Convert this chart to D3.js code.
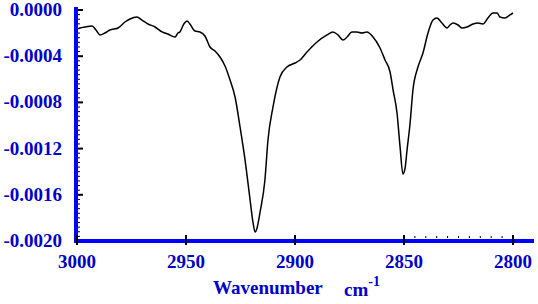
<!DOCTYPE html>
<html>
<head>
<meta charset="utf-8">
<script src="https://cdn.jsdelivr.net/npm/d3@7"></script>
<style>
  body { margin: 0; background: #fff; }
  svg { display: block; }
  text { font-family: "Liberation Serif", "Times New Roman", serif; font-weight: bold; }
</style>
</head>
<body>
<svg id="chart" width="538" height="304"></svg>
<script>
// spectrum: wavenumber (cm-1) and absorbance
var wavenumber = [2999.5, 2998.6, 2996.3, 2993.1, 2991.3, 2989.4, 2987.2, 2984.9, 2981.2, 2978.0,
  2975.7, 2972.5, 2970.2, 2967.4, 2964.2, 2961.0, 2958.3, 2955.0, 2953.7, 2952.8,
  2951.0, 2949.5, 2948.2, 2945.9, 2943.6, 2941.3, 2939.0, 2936.7, 2934.4, 2932.1,
  2929.8, 2927.5, 2925.2, 2922.9, 2920.6, 2919.3, 2918.3, 2917.4, 2916.1, 2913.8,
  2912.4, 2910.1, 2906.9, 2903.7, 2900.0, 2897.7, 2894.5, 2889.9, 2885.3, 2882.6,
  2880.3, 2878.0, 2876.1, 2873.9, 2871.6, 2869.3, 2867.0, 2864.2, 2861.0, 2858.7,
  2856.4, 2855.0, 2853.2, 2851.8, 2850.5, 2849.5, 2848.6, 2847.2, 2845.9, 2843.6,
  2841.3, 2839.0, 2836.7, 2834.9, 2832.6, 2830.3, 2828.9, 2827.5, 2825.2, 2823.4,
  2821.1, 2818.3, 2816.1, 2813.8, 2811.5, 2809.2, 2807.3, 2806.0, 2803.7, 2801.4, 2800.0];
var absorbance = [-0.000164, -0.000156, -0.000147, -0.000139, -0.000173, -0.000216, -0.000199, -0.000173, -0.000156, -0.000104,
  -0.000078, -0.000061, -0.000087, -0.000121, -0.000147, -0.000190, -0.000208, -0.000234, -0.000199, -0.000190,
  -0.000121, -0.000095, -0.000121, -0.000182, -0.000190, -0.000225, -0.000320, -0.000355, -0.000407, -0.000485,
  -0.000606, -0.000753, -0.001013, -0.001299, -0.001645, -0.001835, -0.001922, -0.001887, -0.001758, -0.001472,
  -0.001126, -0.000840, -0.000580, -0.000494, -0.000459, -0.000433, -0.000364, -0.000277, -0.000216, -0.000190,
  -0.000216, -0.000260, -0.000234, -0.000190, -0.000190, -0.000199, -0.000190, -0.000234, -0.000329, -0.000433,
  -0.000537, -0.000693, -0.000892, -0.001186, -0.001420, -0.001368, -0.001212, -0.000978, -0.000693, -0.000494,
  -0.000372, -0.000199, -0.000087, -0.000069, -0.000113, -0.000156, -0.000130, -0.000113, -0.000130, -0.000156,
  -0.000147, -0.000121, -0.000113, -0.000121, -0.000069, -0.000026, -0.000026, -0.000061, -0.000069, -0.000043, -0.000026];

var xTicks = [3000, 2950, 2900, 2850, 2800];
var yTicks = [0, -0.0004, -0.0008, -0.0012, -0.0016, -0.0020];

var svg = d3.select("#chart");
var blue = "#0000ff", textBlue = "#0000c8";

var x = d3.scaleLinear().domain([3000, 2800]).range([77, 513]);
var y = d3.scaleLinear().domain([-0.002, 0]).range([241, 10]);

// minor ticks along the y axis
var minorY = d3.range(0, 51).map(i => -0.00004 * i);
svg.append("g").selectAll("line").data(minorY).join("line")
  .attr("x1", 78).attr("x2", 80)
  .attr("y1", d => y(d)).attr("y2", d => y(d))
  .attr("stroke", "#000").attr("stroke-width", 1);

// major y ticks
svg.append("g").selectAll("line").data(yTicks).join("line")
  .attr("x1", 76).attr("x2", 83)
  .attr("y1", d => y(d)).attr("y2", d => y(d))
  .attr("stroke", "#000").attr("stroke-width", 2);

// minor x ticks (right part)
var minorX = d3.range(2845, 2800, -5);
svg.append("g").selectAll("line").data(minorX).join("line")
  .attr("x1", d => x(d)).attr("x2", d => x(d))
  .attr("y1", 236).attr("y2", 238)
  .attr("stroke", "#000").attr("stroke-width", 1);

// axis lines
svg.append("rect").attr("x", 74).attr("y", 7).attr("width", 4).attr("height", 236).attr("fill", blue);
svg.append("rect").attr("x", 74).attr("y", 239).attr("width", 460).attr("height", 4).attr("fill", blue);

// major x ticks
svg.append("g").selectAll("line").data(xTicks).join("line")
  .attr("x1", d => x(d)).attr("x2", d => x(d))
  .attr("y1", 235).attr("y2", 245)
  .attr("stroke", "#000").attr("stroke-width", 2);

// tick labels
svg.append("g").selectAll("text").data(yTicks).join("text")
  .attr("x", 62).attr("y", d => y(d) + 6)
  .attr("text-anchor", "end")
  .attr("font-size", 19).attr("fill", textBlue)
  .text(d => d3.format(".4f")(d).replace("−", "-"));

svg.append("g").selectAll("text").data(xTicks).join("text")
  .attr("x", d => x(d)).attr("y", 268)
  .attr("text-anchor", "middle")
  .attr("font-size", 19).attr("fill", textBlue)
  .text(d => d);

// axis title
var title = svg.append("text").attr("x", 213).attr("y", 294)
  .attr("font-size", 19).attr("fill", textBlue);
title.append("tspan").text("Wavenumber");
title.append("tspan").attr("x", 344).attr("y", 296).text("cm");
title.append("tspan").attr("dy", -10).attr("font-size", 14).text("-1");

// spectrum
var pts = wavenumber.map((w, i) => [w, absorbance[i]]);
var line = d3.line().x(d => x(d[0])).y(d => y(d[1])).curve(d3.curveMonotoneX);
svg.append("path").datum(pts)
  .attr("d", line)
  .attr("fill", "none").attr("stroke", "#000").attr("stroke-width", 1.5);
</script>
</body>
</html>
